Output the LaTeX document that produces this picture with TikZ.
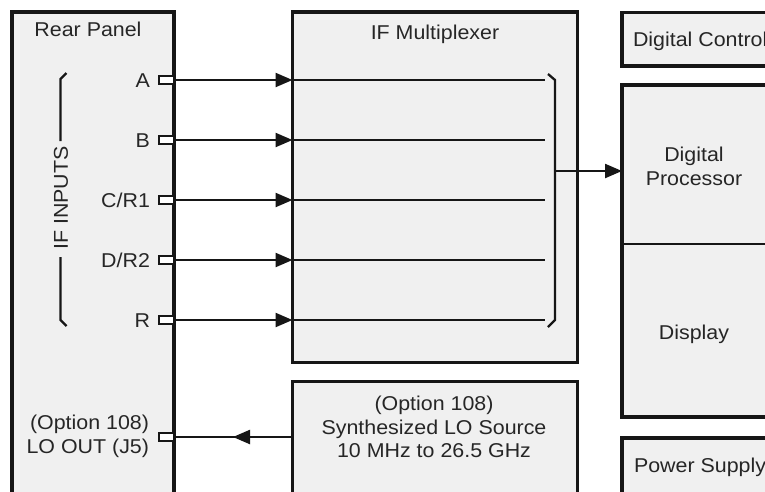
\documentclass[tikz,border=0pt]{standalone}
\usepackage{fontspec}
\setmainfont[FakeStretch=1.07]{Liberation Sans}
\usetikzlibrary{arrows.meta}
\definecolor{boxfill}{HTML}{F0F0F0}
\definecolor{ink}{HTML}{161616}
\definecolor{txt}{HTML}{262626}
\begin{document}
\begin{tikzpicture}[x=1pt,y=-1pt,
  box/.style={draw=ink, line width=3.8pt, fill=boxfill, anchor=north west, inner sep=0pt, outer sep=0pt},
  lbl/.style={text=txt, font=\fontsize{20}{23.5}\selectfont, inner sep=0pt, outer sep=0pt},
  port/.style={draw=ink, line width=1.8pt, fill=white, minimum width=15pt, minimum height=8pt, inner sep=0pt, outer sep=0pt},
  sig/.style={draw=ink, line width=2.3pt},
  arr/.style={sig, -{Triangle[length=17pt,width=14pt]}},
]
\clip (0,0) rectangle (765,491);
\fill[white] (0,0) rectangle (765,491);
% boxes
\node[box, minimum width=162pt, minimum height=520pt] (rear) at (12,12) {};
\node[box, minimum width=285pt, minimum height=350.5pt] (mux) at (292.5,12) {};
\node[box, minimum width=285pt, minimum height=150pt] (lo) at (292.5,381.5) {};
\node[box, minimum width=200pt, minimum height=53.5pt] (dc) at (622,12.5) {};
\node[box, minimum width=200pt, minimum height=332pt] (dp) at (622,85) {};
\node[box, minimum width=200pt, minimum height=100pt] (ps) at (622,438) {};
\coordinate (divy) at (0,244);
\draw[ink, line width=2pt] (dp.west |- divy) -- (dp.east |- divy);
% titles
\node[lbl, anchor=base] (reart) at (88,36) {Rear Panel};
\node[lbl, anchor=base] (muxt) at (435,39) {IF Multiplexer};
\node[lbl, anchor=base west] (dct) at (633,46.5) {Digital Control};
\node[lbl, anchor=base, align=center] (dpt) at (694,185) {Digital\\Processor};
\node[lbl, anchor=base] (dispt) at (694,339) {Display};
\node[lbl, anchor=base west] (pst) at (634,472.5) {Power Supply};
\node[lbl, anchor=base, align=center] (lot) at (434,457.5) {(Option 108)\\Synthesized LO Source\\10 MHz to 26.5 GHz};
\node[lbl, anchor=base east, align=right] (loout) at (149,453.3) {(Option 108)\\LO OUT (J5)};
% IF INPUTS bracket
\node[lbl, rotate=90] (ifin) at (61,198) {IF INPUTS};
\draw[sig] (66.5,73) -- (60.5,79) -- (60.5,141);
\draw[sig] (60.5,257) -- (60.5,320) -- (66.5,326);
% ports and signals
\foreach \nm/\lab/\yy in {A/A/80, B/B/140, C/C\slash R1/200, D/D\slash R2/260, R/R/320} {
  \node[port] (p\nm) at (166.5,\yy) {};
  \node[lbl, anchor=base east] (l\nm) at (150,\yy+7.2) {\lab};
  \coordinate (e\nm) at (545,\yy);
  \draw[arr] (p\nm.east) -- (p\nm.east -| mux.west);
  \draw[sig] (p\nm.east -| mux.west) -- (e\nm);
}
% mux output bracket
\draw[sig] (548,74) -- (555,80) -- (555,320) -- (548,327);
\coordinate (mo) at (555,171);
\draw[arr] (mo) -- (mo -| dp.west);
% LO out
\node[port] (pLO) at (166.5,437) {};
\coordinate (lohead) at (233,437);
\draw[sig] (lo.west |- pLO) -- (pLO.east);
\draw[arr] (lo.west |- pLO) -- (lohead);
\end{tikzpicture}
\end{document}
